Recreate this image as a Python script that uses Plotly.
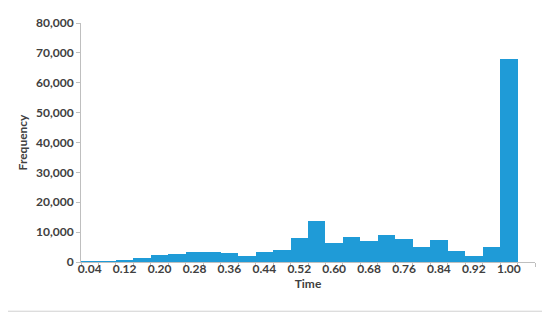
import plotly.graph_objs as go

# bin labels (26 bins, the last "More" bin is empty and unlabeled)
bins = ["0.04", "0.08", "0.12", "0.16", "0.20", "0.24", "0.28", "0.32", "0.36",
        "0.40", "0.44", "0.48", "0.52", "0.56", "0.60", "0.64", "0.68", "0.72",
        "0.76", "0.80", "0.84", "0.88", "0.92", "0.96", "1.00", "More"]
frequency = [50, 300, 700, 1200, 2500, 2700, 3200, 3500, 3000, 2000, 3500, 3900,
             8000, 13600, 6400, 8400, 6900, 9200, 7700, 5000, 7200, 3600, 2000,
             5000, 68000, 0]
shown_labels = [b if i % 2 == 0 and b != "More" else "" for i, b in enumerate(bins)]

bold = dict(family="Lato", size=12, color="#404040", weight="bold")

fig = go.Figure()
fig.add_trace(go.Bar(x=bins, y=frequency, marker=dict(color="#1F9BD7", line=dict(width=0)),
                     name="Frequency"))

# page body has an 8px margin, so the figure is shrunk and shifted to compensate
fig.update_layout(
    width=542, height=310,
    margin=dict(l=73, r=15, t=7, b=56),
    paper_bgcolor="white", plot_bgcolor="white",
    bargap=0, showlegend=False,
    font=dict(family="Lato", size=12, color="#404040"),
)
fig.update_xaxes(
    type="category", tickmode="array", tickvals=bins, ticktext=shown_labels,
    tickangle=0, ticklabelstandoff=-4,
    showline=True, linecolor="#BFBFBF", linewidth=1,
    ticks="outside", ticklen=4, tickcolor="#BFBFBF", tickson="boundaries",
    tickfont=bold,
    title=dict(text="Time", font=bold, standoff=4),
    showgrid=False,
)
fig.update_yaxes(
    range=[0, 80000], dtick=10000, tickformat=",",
    showline=True, linecolor="#BFBFBF", linewidth=1,
    ticks="outside", ticklen=4, tickcolor="#BFBFBF",
    tickfont=bold, ticklabeloverflow="allow",
    title=dict(text="Frequency", font=bold, standoff=5),
    showgrid=False, zeroline=False,
)
# chart border (right and bottom edges fall inside the figure)
fig.add_shape(type="rect", xref="paper", yref="paper", x0=-0.3, x1=1.026, y0=-0.206, y1=1.2,
              line=dict(color="#D0D0D0", width=1))

fig.write_html("out.html")
